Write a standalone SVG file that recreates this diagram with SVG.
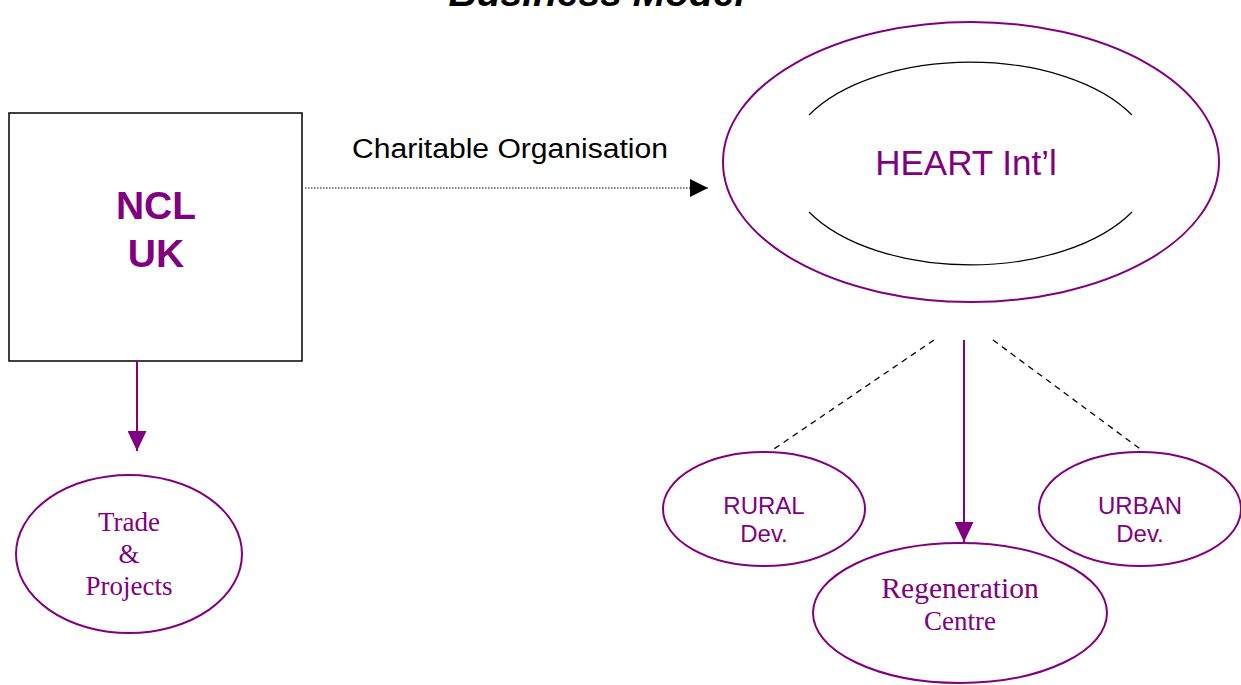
<svg xmlns="http://www.w3.org/2000/svg" width="1241" height="685" viewBox="0 0 1241 685">
<style>
.pl{fill:none;stroke:#800080;stroke-width:2}
.sans{font-family:"Liberation Sans",Arial,sans-serif}
.serif{font-family:"Liberation Serif","Times New Roman",serif}
.pt{fill:#800080}
</style>
<defs>
<marker id="ap" markerWidth="20" markerHeight="19" refX="20" refY="9.5" orient="auto" markerUnits="userSpaceOnUse"><path d="M0,0 L20,9.5 L0,19 Z" fill="#800080"/></marker>
<marker id="ab" markerWidth="18" markerHeight="18" refX="18" refY="9" orient="auto" markerUnits="userSpaceOnUse"><path d="M0,0 L18,9 L0,18 Z" fill="#000"/></marker>
</defs>
<rect width="1241" height="685" fill="#fff"/>
<text x="597" y="6" text-anchor="middle" class="sans" font-size="39" font-weight="bold" font-style="italic" fill="#000">Business Model</text>
<g id="ncl">
<rect x="9" y="113" width="293" height="248" fill="#fff" stroke="#000" stroke-width="1.5"/>
<text x="156" y="219" text-anchor="middle" class="sans pt" font-size="39" font-weight="bold">NCL</text>
<text x="156" y="267" text-anchor="middle" class="sans pt" font-size="39" font-weight="bold">UK</text>
</g>
<g id="trade">
<ellipse cx="129" cy="554" rx="113" ry="79" class="pl"/>
<text x="129" y="531" text-anchor="middle" class="serif pt" font-size="27">Trade</text>
<text x="129" y="563" text-anchor="middle" class="serif pt" font-size="27">&amp;</text>
<text x="129" y="595" text-anchor="middle" class="serif pt" font-size="27">Projects</text>
</g>
<g id="heart">
<ellipse cx="971" cy="162" rx="248" ry="140" class="pl"/>
<path d="M809,115 A184,101.5 0 0 1 1132,115 M809,212 A184,101.5 0 0 0 1132,212" fill="none" stroke="#000" stroke-width="1.2"/>
<text x="966" y="175" text-anchor="middle" class="sans pt" font-size="35">HEART Int’l</text>
</g>
<g id="rural">
<ellipse cx="764" cy="509" rx="101" ry="57" class="pl"/>
<text x="764" y="514" text-anchor="middle" class="sans pt" font-size="24">RURAL</text>
<text x="764" y="542" text-anchor="middle" class="sans pt" font-size="24">Dev.</text>
</g>
<g id="urban">
<ellipse cx="1140" cy="509" rx="101" ry="57" class="pl"/>
<text x="1140" y="514" text-anchor="middle" class="sans pt" font-size="24">URBAN</text>
<text x="1140" y="542" text-anchor="middle" class="sans pt" font-size="24">Dev.</text>
</g>
<g id="regen">
<ellipse cx="960" cy="613" rx="147" ry="70" class="pl"/>
<text x="960" y="598" text-anchor="middle" class="serif pt" font-size="29.5">Regeneration</text>
<text x="960" y="630" text-anchor="middle" class="serif pt" font-size="27">Centre</text>
</g>
<g id="connectors">
<text x="510" y="158" text-anchor="middle" class="sans" font-size="27" textLength="316" lengthAdjust="spacingAndGlyphs" fill="#000">Charitable Organisation</text>
<line x1="305" y1="188" x2="708" y2="188" stroke="#000" stroke-width="1" stroke-dasharray="1.5,1.5" marker-end="url(#ab)"/>
<line x1="137" y1="361" x2="137" y2="451" stroke="#800080" stroke-width="2" marker-end="url(#ap)"/>
<line x1="964" y1="340" x2="964" y2="542" stroke="#800080" stroke-width="2" marker-end="url(#ap)"/>
<line x1="934" y1="340" x2="771" y2="451" stroke="#000" stroke-width="1.3" stroke-dasharray="6,5"/>
<line x1="993" y1="340" x2="1143" y2="451" stroke="#000" stroke-width="1.3" stroke-dasharray="6,5"/>
</g>
</svg>
